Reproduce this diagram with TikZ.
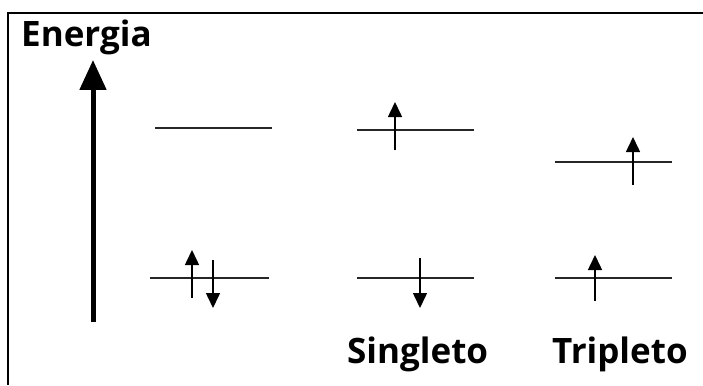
\documentclass[tikz,border=0pt]{standalone}
\usepackage{fontspec}
\setmainfont{Open Sans}
\usetikzlibrary{arrows.meta}
\tikzset{
  frame/.style={line width=2pt, black},
  level/.style={line width=1.5pt, black!85},
  spin/.style={line width=1.5pt, black, -{Triangle[width=14pt,length=15pt]}},
  bigarrow/.style={line width=5pt, black, -{Triangle[width=26pt,length=30pt]}},
  lbl/.style={anchor=base west, inner sep=0pt, font=\fontsize{35}{42}\selectfont\bfseries}
}
\begin{document}
\begin{tikzpicture}[x=1pt,y=-1pt]
\useasboundingbox (0,0) rectangle (703,385);
% frame
\coordinate (fTR) at (703,13);
\coordinate (fTL) at (8,13);
\coordinate (fBL) at (8,385);
\draw[frame] (fTR) -- (fTL) -- (fBL);
% title
\node[lbl] (energia) at (21,47) {Energia};
% energy axis
\coordinate (axB) at (93,322);
\coordinate (axT) at (93,60);
\draw[bigarrow] (axB) -- (axT);
% levels
\coordinate (l1a) at (155,128); \coordinate (l1b) at (272,128);
\coordinate (l2a) at (150,278); \coordinate (l2b) at (269,278);
\coordinate (m1a) at (357,130); \coordinate (m1b) at (474,130);
\coordinate (m2a) at (357,278); \coordinate (m2b) at (474,278);
\coordinate (r1a) at (555,162); \coordinate (r1b) at (672,162);
\coordinate (r2a) at (555,278); \coordinate (r2b) at (672,278);
\draw[level] (l1a) -- (l1b);
\draw[level] (l2a) -- (l2b);
\draw[level] (m1a) -- (m1b);
\draw[level] (m2a) -- (m2b);
\draw[level] (r1a) -- (r1b);
\draw[level] (r2a) -- (r2b);
% spins
\coordinate (s1a) at (192,298); \coordinate (s1b) at (192,250);
\coordinate (s2a) at (213,260); \coordinate (s2b) at (213,308);
\coordinate (s3a) at (395,150); \coordinate (s3b) at (395,102);
\coordinate (s4a) at (420,258); \coordinate (s4b) at (420,308);
\coordinate (s5a) at (633,185); \coordinate (s5b) at (633,137);
\coordinate (s6a) at (595,301); \coordinate (s6b) at (595,255);
\draw[spin] (s1a) -- (s1b);
\draw[spin] (s2a) -- (s2b);
\draw[spin] (s3a) -- (s3b);
\draw[spin] (s4a) -- (s4b);
\draw[spin] (s5a) -- (s5b);
\draw[spin] (s6a) -- (s6b);
% labels
\node[lbl] (singleto) at (347,363) {Singleto};
\node[lbl] (tripleto) at (552,363) {Tripleto};
\end{tikzpicture}
\end{document}
